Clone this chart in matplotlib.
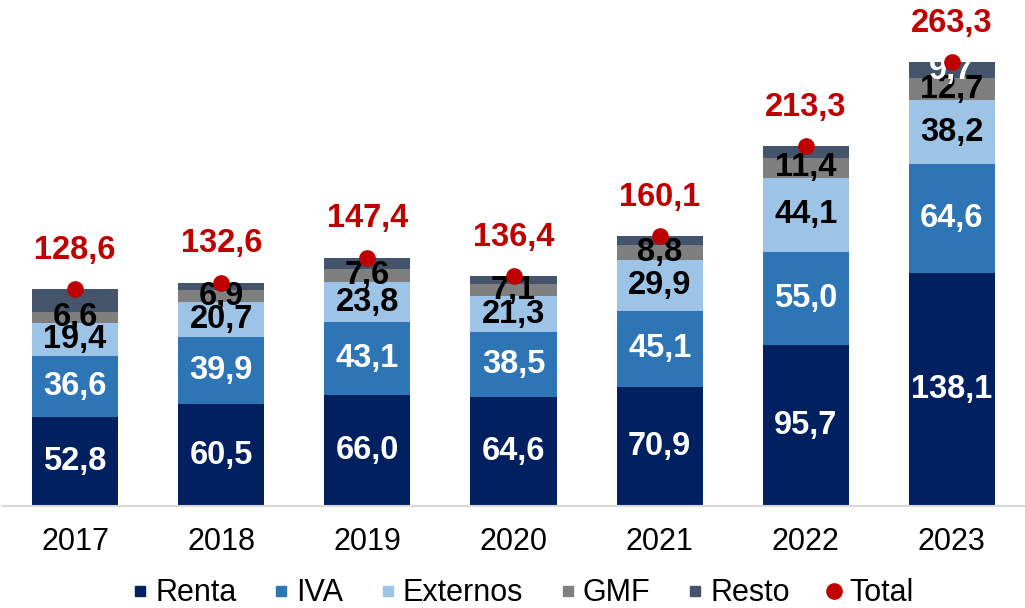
import numpy as np
import matplotlib.pyplot as plt
from matplotlib.lines import Line2D

plt.rcParams['font.family'] = ['Liberation Sans', 'DejaVu Sans']

years = ['2017', '2018', '2019', '2020', '2021', '2022', '2023']
renta = [52.8, 60.5, 66.0, 64.6, 70.9, 95.7, 138.1]
iva = [36.6, 39.9, 43.1, 38.5, 45.1, 55.0, 64.6]
externos = [19.4, 20.7, 23.8, 21.3, 29.9, 44.1, 38.2]
gmf = [6.6, 6.9, 7.6, 7.1, 8.8, 11.4, 12.7]
resto = [13.2, 4.6, 6.9, 4.9, 5.4, 7.1, 9.7]
total = [128.6, 132.6, 147.4, 136.4, 160.1, 213.3, 263.3]

series = [
    ('Renta', renta, '#002060', 'white', True),
    ('IVA', iva, '#2E75B6', 'white', True),
    ('Externos', externos, '#9DC3E6', 'black', True),
    ('GMF', gmf, '#7F7F7F', 'black', True),
    ('Resto', resto, '#44546A', 'white', False),
]

fig = plt.figure(figsize=(10.25, 6.08), dpi=100)
ax = fig.add_axes([0.002, 0.167, 0.998, 0.833])

x = np.arange(len(years))
bottom = np.zeros(len(years))
for name, vals, color, tcolor, show in series:
    vals = np.array(vals)
    ax.bar(x, vals, 0.59, bottom=bottom, color=color, label=name)
    for i, v in enumerate(vals):
        # Resto solo se rotula en 2023
        if show or i == len(years) - 1:
            ax.text(x[i], bottom[i] + v / 2, f'{v:.1f}'.replace('.', ','),
                    ha='center', va='center', color=tcolor,
                    fontsize=23.5, fontweight='bold')
    bottom += vals

ax.plot(x, total, 'o', color='#C00000', markersize=11, zorder=5)
for i, t in enumerate(total):
    ax.annotate(f'{t:.1f}'.replace('.', ','), (x[i], t), xytext=(0, 28),
                textcoords='offset points', ha='center', va='center',
                color='#C00000', fontsize=23.5, fontweight='bold')

ax.set_xlim(-0.5, len(years) - 0.5)
ax.set_ylim(0, 300)
ax.set_xticks(x)
ax.set_xticklabels(years, fontsize=22)
ax.tick_params(axis='x', length=0, pad=15)
ax.set_yticks([])
for s in ['top', 'right', 'left']:
    ax.spines[s].set_visible(False)
ax.spines['bottom'].set_color('#D9D9D9')
ax.spines['bottom'].set_linewidth(1.5)

handles = [Line2D([], [], marker='s', linestyle='none', color=c, markersize=7)
           for _, _, c, _, _ in series]
handles.append(Line2D([], [], marker='o', linestyle='none', color='#C00000', markersize=11))
labels = [s[0] for s in series] + ['Total']
fig.legend(handles, labels, loc='lower center', bbox_to_anchor=(0.508, -0.046), ncol=6,
           frameon=False, fontsize=22, handletextpad=0.1, columnspacing=1.05,
           handlelength=0.8)

fig.savefig('out.png', dpi=100)
